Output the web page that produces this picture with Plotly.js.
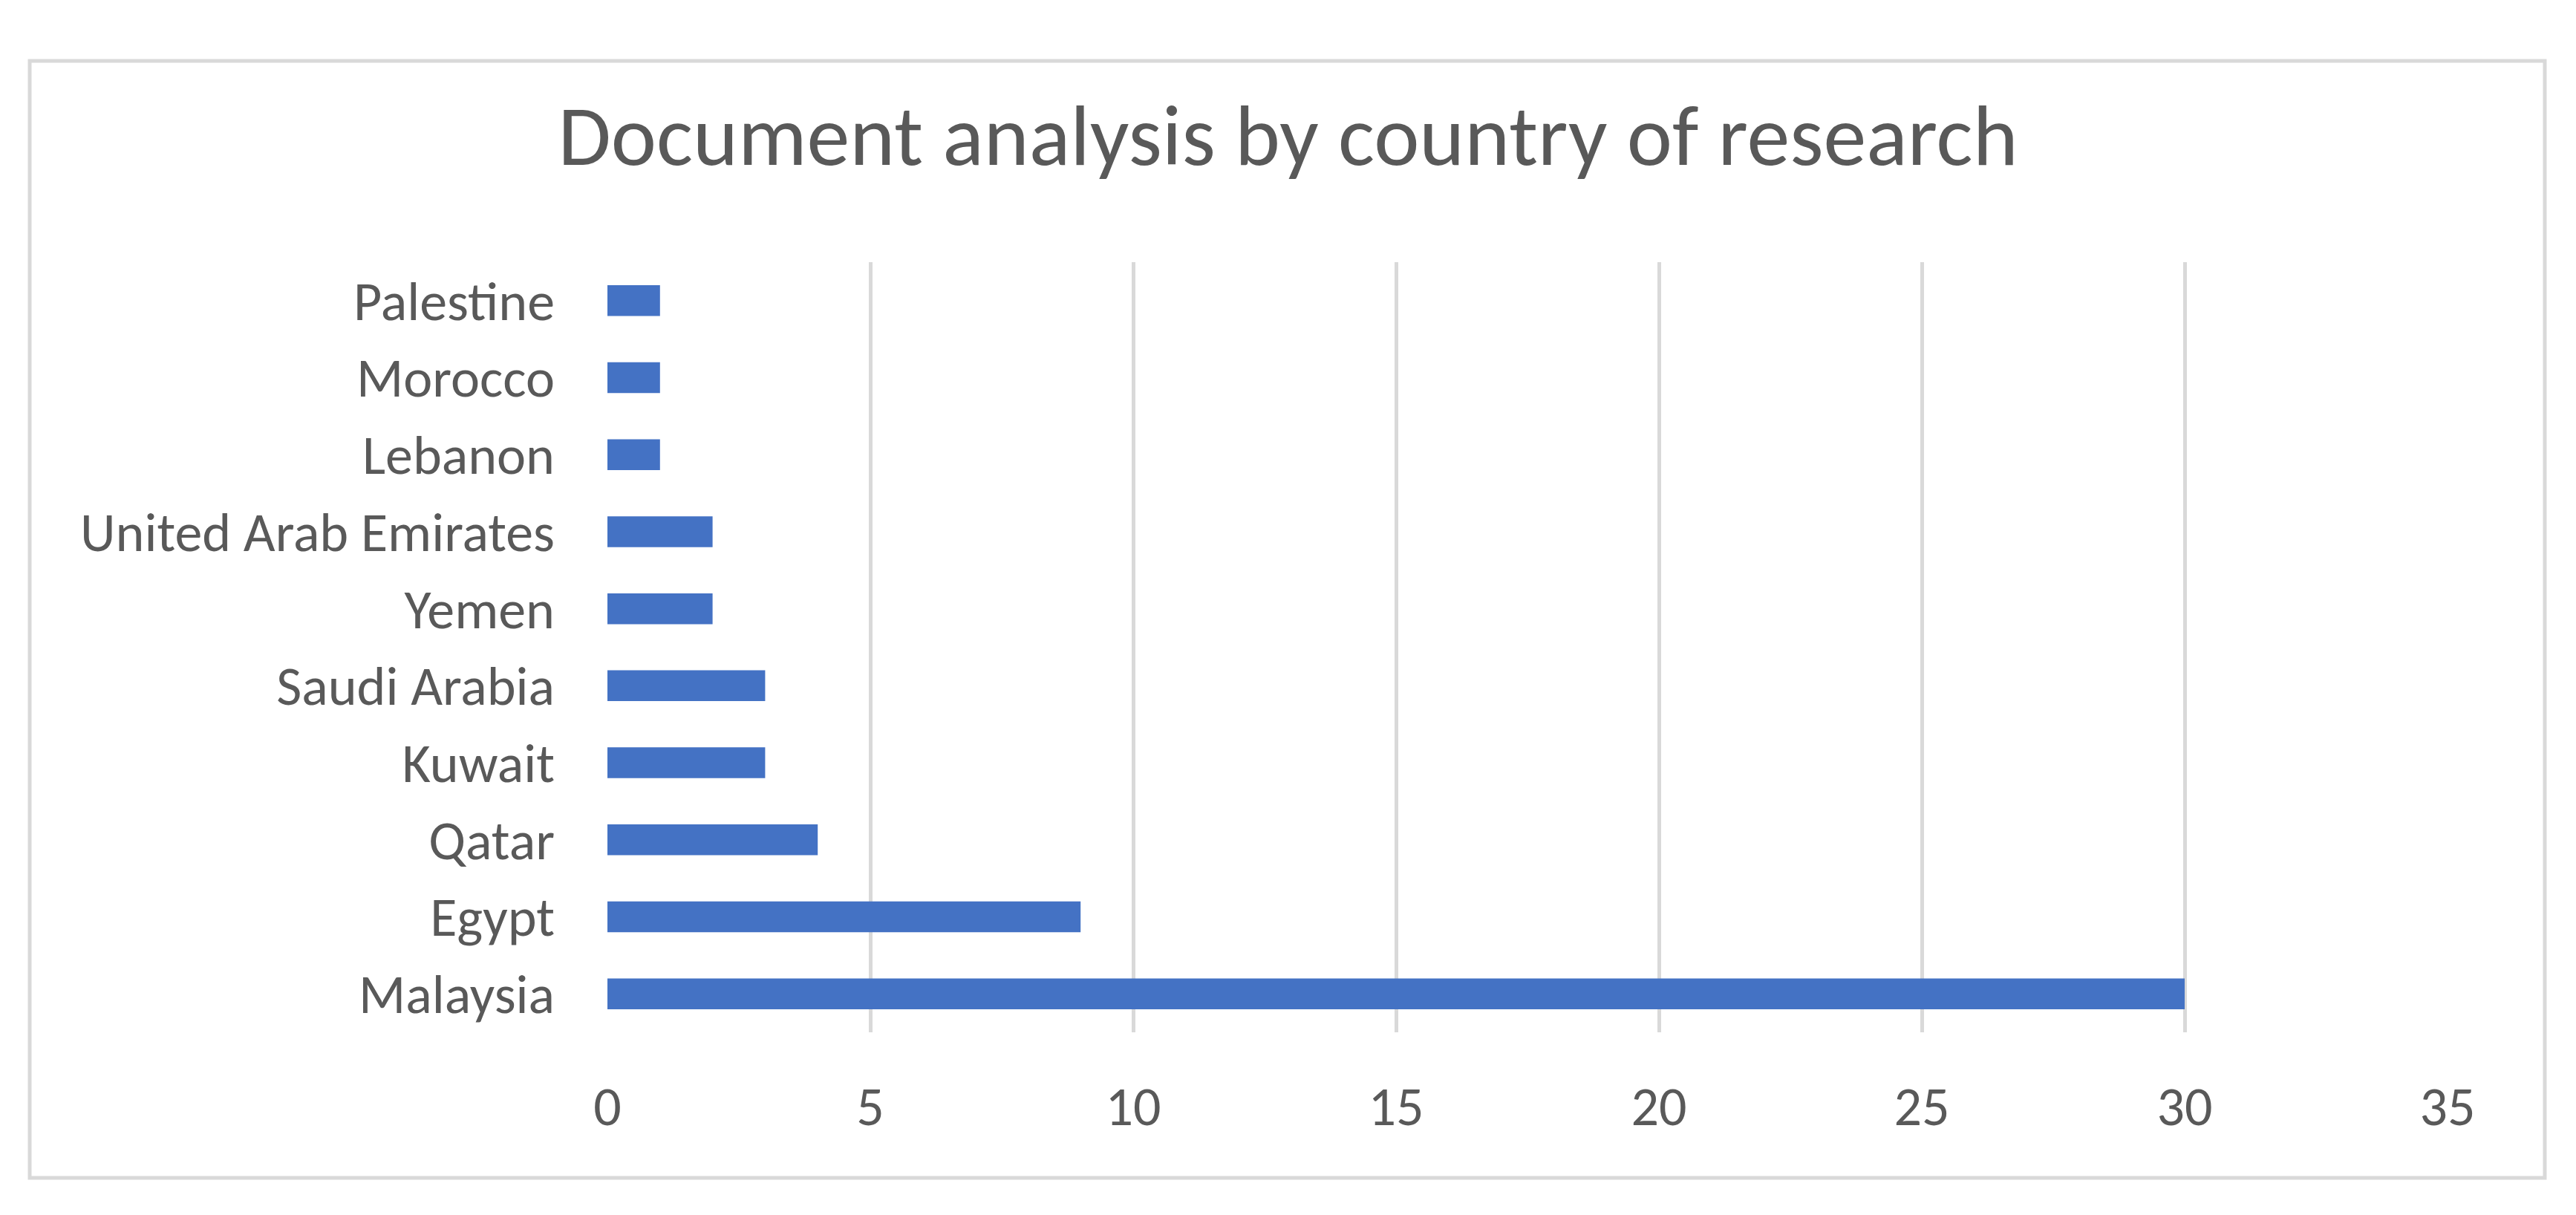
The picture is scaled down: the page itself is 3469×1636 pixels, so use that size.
<!DOCTYPE html>
<html>
<head>
<meta charset="utf-8">
<script src="https://cdn.plot.ly/plotly-3.0.1.min.js"></script>
<style>html,body{margin:0;padding:0;background:#fff;}#chart{width:3469px;height:1636px;}</style>
</head>
<body>
<div id="chart"></div>
<script>
const countries = ["Malaysia","Egypt","Qatar","Kuwait","Saudi Arabia","Yemen","United Arab Emirates","Lebanon","Morocco","Palestine"];
const documents = [30, 9, 4, 3, 3, 2, 2, 1, 1, 1];
const xTicks = [0, 5, 10, 15, 20, 25, 30, 35];
const chartTitle = "Document analysis by country of research";

const FONT = "Carlito, Calibri, Lato, sans-serif";
const W = 3469, H = 1636;
const L = 818, R = 173, T = 353, B = 246;
const pw = W - L - R, ph = H - T - B;
const px = v => (v - L) / pw;
const py = v => (H - B - v) / ph;

const data = [{
  type: "bar",
  orientation: "h",
  y: countries,
  x: documents,
  marker: {color: "#4472c4", line: {width: 0}},
  hoverinfo: "x+y"
}];

const layout = {
  width: W, height: H,
  paper_bgcolor: "#ffffff",
  plot_bgcolor: "#ffffff",
  margin: {l: L, r: R, t: T, b: B, pad: 0},
  showlegend: false,
  bargap: 0.6,
  title: {
    text: chartTitle,
    font: {family: FONT, size: 116, color: "#595959"},
    x: 0.5, xref: "container", xanchor: "center",
    y: 1 - 181 / H, yref: "container", yanchor: "middle"
  },
  xaxis: {
    range: [0, 35],
    tickvals: xTicks,
    ticktext: xTicks.map(String),
    showgrid: true, gridcolor: "#d9d9d9", gridwidth: 5,
    zeroline: false, showline: false, ticks: "",
    ticklabelstandoff: 50,
    tickfont: {family: FONT, size: 74, color: "#595959"},
    fixedrange: true
  },
  yaxis: {
    type: "category",
    showgrid: false, zeroline: false, showline: false, ticks: "",
    ticklabelstandoff: 70,
    tickfont: {family: FONT, size: 74, color: "#595959"},
    fixedrange: true
  },
  shapes: [{
    type: "rect", xref: "paper", yref: "paper",
    x0: px(40), x1: px(3427), y0: py(1586), y1: py(82),
    line: {color: "#d9d9d9", width: 5}, fillcolor: "rgba(0,0,0,0)", layer: "below"
  }]
};

Plotly.newPlot("chart", data, layout, {staticPlot: true, displayModeBar: false});
</script>
</body>
</html>
